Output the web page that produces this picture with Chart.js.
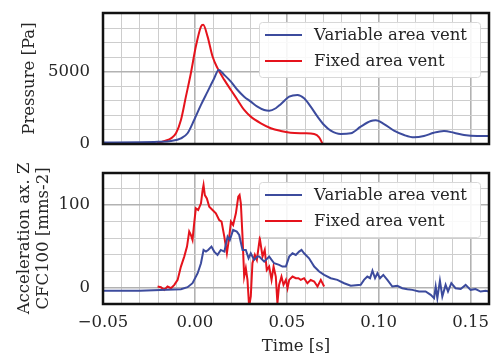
<!DOCTYPE html>
<html>
<head>
<meta charset="utf-8">
<script src="https://cdn.jsdelivr.net/npm/chart.js@4/dist/chart.umd.min.js"></script>
<style>
  html, body { margin: 0; padding: 0; background: #ffffff; overflow: hidden; }
  #wrap { position: relative; width: 492px; height: 354px; }
  #c1 { position: absolute; left: 0; top: 0; }
  #c2 { position: absolute; left: 0; top: 160px; }
</style>
</head>
<body>
<div id="wrap">
  <canvas id="c1" width="492" height="160"></canvas>
  <canvas id="c2" width="492" height="194"></canvas>
</div>
<script>
// ---------- data ----------
const seriesNames = ['Variable area vent', 'Fixed area vent'];

// Pressure, variable area vent
const pressVarTime = [-0.05, -0.03, -0.02, -0.013, -0.0076, -0.004, -0.0004, 0.0033, 0.0069, 0.0105, 0.0129, 0.016, 0.0196, 0.0232, 0.0268, 0.0304, 0.034, 0.0377, 0.0404, 0.044, 0.0467, 0.0513, 0.0558, 0.0594, 0.063, 0.0667, 0.0703, 0.0739, 0.0793, 0.0848, 0.0902, 0.0957, 0.0984, 0.1029, 0.1083, 0.1138, 0.1192, 0.1246, 0.13, 0.1355, 0.1409, 0.1464, 0.1536, 0.16];
const pressVarValue = [110, 120, 150, 210, 390, 740, 1660, 2700, 3620, 4540, 5120, 4770, 4310, 3730, 3270, 2930, 2580, 2350, 2300, 2470, 2750, 3270, 3390, 3160, 2580, 1890, 1310, 920, 690, 740, 1200, 1590, 1640, 1380, 920, 620, 460, 550, 780, 900, 780, 620, 550, 550];

// Pressure, fixed area vent
const pressFixTime = [-0.0205, -0.016, -0.013, -0.0103, -0.0076, -0.0049, -0.0022, 0.0005, 0.0033, 0.0045, 0.0069, 0.0096, 0.0123, 0.016, 0.0196, 0.0232, 0.0268, 0.0304, 0.0359, 0.0413, 0.0467, 0.052, 0.0594, 0.0649, 0.0676, 0.0695];
const pressFixValue = [60, 230, 390, 740, 1660, 3270, 4890, 6730, 8110, 8230, 7420, 6040, 5240, 4430, 3730, 3040, 2350, 1890, 1430, 1090, 900, 780, 740, 690, 460, 0];

// Acceleration, variable area vent
const accVarTime = [-0.05, -0.03, -0.0076, -0.004, -0.0013, 0.0015, 0.0033, 0.0047, 0.006, 0.0072, 0.009, 0.0105, 0.0123, 0.0141, 0.016, 0.0178, 0.019, 0.0208, 0.0228, 0.0241, 0.0259, 0.0277, 0.0292, 0.0304, 0.0322, 0.034, 0.035, 0.0377, 0.0404, 0.0431, 0.0458, 0.0476, 0.0495, 0.0513, 0.0531, 0.0549, 0.0567, 0.058, 0.0594, 0.0621, 0.0649, 0.0676, 0.0703, 0.0739, 0.0775, 0.0812, 0.0848, 0.0902, 0.092, 0.0938, 0.0953, 0.0966, 0.098, 0.0993, 0.1007, 0.1025, 0.1047, 0.1074, 0.1101, 0.1128, 0.1156, 0.1183, 0.1219, 0.1255, 0.1283, 0.1301, 0.131, 0.1319, 0.1333, 0.1346, 0.1364, 0.1377, 0.1395, 0.1418, 0.1446, 0.1473, 0.15, 0.1527, 0.1554, 0.1582, 0.16];
const accVarValue = [-3.2, -3, -1.2, 1.2, 6, 18, 30, 46, 44, 46, 50, 44, 40, 46, 44, 62, 58, 70, 68, 64, 46, 46, 36, 42, 34, 38, 38, 32, 38, 30, 28, 26, 26, 38, 42, 40, 44, 46, 42, 36, 26, 20, 16, 12, 10, 6, 3, 4, 10, 14, 12, 21, 12, 18, 12, 16, 10, 2, 2.8, 0, -1.2, -2, -4, -4, -8, -12, 2, -12, 9, -10, 4, -4, 6, 0, -1, 4, -2, -1, -4, -3, -4];

// Acceleration, fixed area vent
const accFixTime = [-0.0203, -0.0185, -0.0167, -0.0149, -0.013, -0.0112, -0.0094, -0.0076, -0.0058, -0.0043, -0.0031, -0.0022, -0.0013, -0.0004, 0.0005, 0.0018, 0.0033, 0.0042, 0.0047, 0.0054, 0.0065, 0.0078, 0.0096, 0.0114, 0.0132, 0.0145, 0.016, 0.0174, 0.0187, 0.0196, 0.0208, 0.0223, 0.0236, 0.0243, 0.025, 0.0259, 0.0268, 0.0277, 0.0286, 0.0295, 0.0304, 0.0313, 0.0326, 0.0337, 0.0353, 0.0368, 0.038, 0.0391, 0.0404, 0.0417, 0.0428, 0.044, 0.0449, 0.0458, 0.0471, 0.0482, 0.0495, 0.0504, 0.0513, 0.0531, 0.0549, 0.0563, 0.0576, 0.0594, 0.0612, 0.063, 0.0649, 0.0667, 0.0685, 0.0703];
const accFixValue = [2, 1.2, -2, 2, 0, 4, 10, 26, 38, 50, 68, 64, 58, 78, 96, 94, 102, 118, 124, 112, 108, 98, 94, 90, 82, 80, 62, 42, 62, 80, 76, 90, 110, 112, 102, 62, 14, 24, 10, -22, -10, 30, 40, 34, 60, 38, 46, 22, 26, 10, 26, 14, -18, 4, 14, 4, 10, 0, 10, 14, 12, 12, 10, 12, 6, 10, 8, 2, 10, 2];

// axis ranges and ticks
const xMin = -0.05, xMax = 0.16, xMinorStep = 0.01;
const xTickValues = [-0.05, 0.00, 0.05, 0.10, 0.15];
const xTickLabels = ['\u22120.05', '0.00', '0.05', '0.10', '0.15'];

const pMin = 0, pMax = 9050, pMinorStep = 1000;
const pTickValues = [0, 5000];
const pTickLabels = ['0', '5000'];

const aMin = -19, aMax = 138.5, aMinorStep = 20;
const aTickValues = [0, 100];
const aTickLabels = ['0', '100'];

// ---------- styling ----------
const BLUE = '#3c4b9d';
const RED = '#e5131c';
const FONT = 'DejaVu Serif';
const FS = 16.5;
const TXT = '#262626';

function pts(ts, vs) { return ts.map((t, i) => ({ x: t, y: vs[i] })); }

function gridValues(min, max, step, anchor) {
  const out = [];
  const start = Math.ceil((min - anchor) / step - 1e-9);
  for (let k = start; anchor + k * step <= max + 1e-9; k++) {
    out.push(Math.round((anchor + k * step) * 1e6) / 1e6);
  }
  return out;
}
function isMajor(v, majors) { return majors.some(m => Math.abs(m - v) < 1e-7); }
function labelFor(v, vals, labs) {
  for (let i = 0; i < vals.length; i++) if (Math.abs(vals[i] - v) < 1e-7) return labs[i];
  return '';
}
function zeroPad(s) { s.paddingTop = 0; s.paddingBottom = 0; s.paddingLeft = 0; s.paddingRight = 0; }

const frameLegendPlugin = {
  id: 'frameLegend',
  afterDatasetsDraw(chart) {
    const ctx = chart.ctx, a = chart.chartArea;
    ctx.save();
    // frame
    ctx.strokeStyle = '#111111';
    ctx.lineWidth = 2.5;
    ctx.strokeRect(a.left, a.top, a.right - a.left, a.bottom - a.top);
    // legend box
    const bw = 221, bh = 55;
    const bx = a.right - 9 - bw, by = a.top + 9;
    ctx.beginPath();
    ctx.roundRect(bx + 0.5, by + 0.5, bw, bh, 3);
    ctx.fillStyle = 'rgba(255,255,255,0.88)';
    ctx.fill();
    ctx.strokeStyle = '#d8d8d8';
    ctx.lineWidth = 1;
    ctx.stroke();
    ctx.font = FS + 'px "' + FONT + '"';
    ctx.textBaseline = 'middle';
    ctx.textAlign = 'left';
    chart.data.datasets.forEach((ds, i) => {
      const y = by + 13 + i * 26;
      ctx.beginPath();
      ctx.moveTo(bx + 6, y);
      ctx.lineTo(bx + 43, y);
      ctx.strokeStyle = ds.borderColor;
      ctx.lineWidth = 2;
      ctx.stroke();
      ctx.fillStyle = TXT;
      ctx.fillText(ds.label, bx + 55, y + 1);
    });
    ctx.restore();
  }
};

function makeScaleGrid(majors) {
  return {
    drawTicks: false,
    color: c => isMajor(c.tick.value, majors) ? '#b2b2b2' : '#cdcdcd',
    lineWidth: c => isMajor(c.tick.value, majors) ? 1.6 : 1
  };
}

function xScale(showLabels, heightPx) {
  const grid = gridValues(xMin, xMax, xMinorStep, 0);
  return {
    type: 'linear',
    min: xMin, max: xMax,
    border: { display: false },
    grid: makeScaleGrid(xTickValues),
    afterBuildTicks: s => { s.ticks = grid.map(v => ({ value: v })); },
    afterFit: s => { s.height = heightPx; zeroPad(s); },
    ticks: {
      display: showLabels,
      autoSkip: false,
      maxRotation: 0,
      padding: 9,
      color: TXT,
      font: { family: FONT, size: FS, lineHeight: 1.2 },
      callback: v => labelFor(v, xTickValues, xTickLabels)
    },
    title: showLabels ? {
      display: true, text: 'Time [s]', color: TXT,
      font: { family: FONT, size: FS, lineHeight: 0.85 },
      padding: { top: 0, bottom: 0 }
    } : { display: false }
  };
}

function yScale(min, max, step, vals, labs, title, titlePad, lh) {
  const grid = gridValues(min, max, step, 0);
  return {
    type: 'linear',
    min: min, max: max,
    border: { display: false },
    grid: makeScaleGrid(vals),
    afterBuildTicks: s => { s.ticks = grid.map(v => ({ value: v })); },
    afterFit: s => { s.width = 103; zeroPad(s); },
    ticks: {
      autoSkip: false,
      padding: 13,
      color: TXT,
      font: { family: FONT, size: FS, lineHeight: 1.2 },
      callback: v => labelFor(v, vals, labs)
    },
    title: {
      display: true, text: title, color: TXT,
      font: { family: FONT, size: FS, lineHeight: lh },
      padding: { top: titlePad, bottom: 0 }
    }
  };
}

function lineDs(label, data, color, smooth) {
  return {
    label: label,
    data: data,
    borderColor: color,
    backgroundColor: color,
    borderWidth: 2,
    pointRadius: 0,
    fill: false,
    tension: smooth ? 0.4 : 0,
    cubicInterpolationMode: smooth ? 'monotone' : 'default'
  };
}

Chart.defaults.font.family = FONT;

new Chart(document.getElementById('c1'), {
  type: 'line',
  data: {
    datasets: [
      lineDs(seriesNames[0], pts(pressVarTime, pressVarValue), BLUE, true),
      lineDs(seriesNames[1], pts(pressFixTime, pressFixValue), RED, true)
    ]
  },
  options: {
    responsive: false,
    animation: false,
    layout: { padding: { top: 13, right: 3, left: 0, bottom: 0 } },
    plugins: { legend: { display: false }, tooltip: { enabled: false } },
    scales: {
      x: xScale(false, 16),
      y: yScale(pMin, pMax, pMinorStep, pTickValues, pTickLabels, 'Pressure [Pa]', 20, 1.2)
    }
  },
  plugins: [frameLegendPlugin]
});

new Chart(document.getElementById('c2'), {
  type: 'line',
  data: {
    datasets: [
      lineDs(seriesNames[0], pts(accVarTime, accVarValue), BLUE, false),
      lineDs(seriesNames[1], pts(accFixTime, accFixValue), RED, false)
    ]
  },
  options: {
    responsive: false,
    animation: false,
    layout: { padding: { top: 13, right: 3, left: 0, bottom: 0 } },
    plugins: { legend: { display: false }, tooltip: { enabled: false } },
    scales: {
      x: xScale(true, 50),
      y: yScale(aMin, aMax, aMinorStep, aTickValues, aTickLabels, ['Acceleration ax. Z', 'CFC100 [mms-2]'], 16, 1.1)
    }
  },
  plugins: [frameLegendPlugin]
});
</script>
</body>
</html>
